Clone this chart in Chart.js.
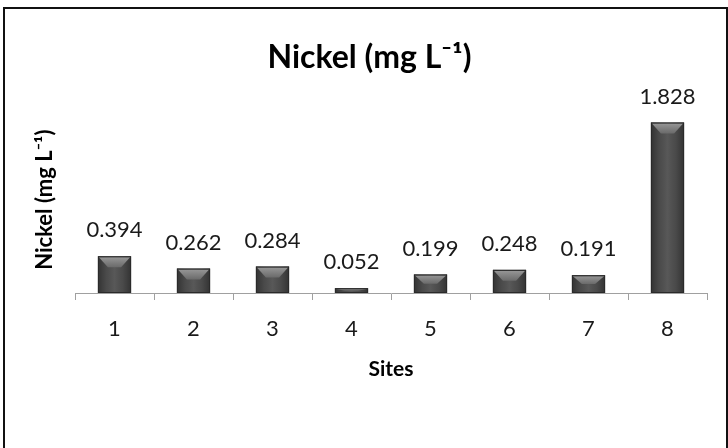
<!DOCTYPE html>
<html>
<head>
<meta charset="utf-8">
<script src="https://cdn.jsdelivr.net/npm/chart.js@4"></script>
<style>
  html, body { margin: 0; padding: 0; background: #fff; }
  #wrap { position: relative; width: 728px; height: 448px; overflow: hidden; }
  #frame { position: absolute; left: 3px; top: 7px; width: 721px; height: 470px; border: 2px solid #111; }
  #myBar { position: absolute; left: 0; top: 0; }
</style>
</head>
<body>
<div id="wrap">
  <div id="frame"></div>
  <canvas id="myBar" width="728" height="448"></canvas>
</div>
<script>
var sites = ['1', '2', '3', '4', '5', '6', '7', '8'];
var nickel = [0.394, 0.262, 0.284, 0.052, 0.199, 0.248, 0.191, 1.828];
var yMax = 2;

var fontName = 'Lato, "Open Sans", sans-serif';

// beveled look like the excel bars
var bevelBars = {
    id: 'bevelBars',
    afterDatasetsDraw: function(chart) {
        var c = chart.ctx;
        chart.getDatasetMeta(0).data.forEach(function(bar) {
            var p = bar.getProps(['x', 'y', 'base', 'width'], true);
            var l = p.x - p.width / 2, r = p.x + p.width / 2;
            var t = p.y, b = p.base;
            var h = b - t;
            c.save();
            var g = c.createLinearGradient(l, 0, r, 0);
            g.addColorStop(0, 'rgba(0,0,0,0.35)');
            g.addColorStop(0.25, 'rgba(0,0,0,0.05)');
            g.addColorStop(0.5, 'rgba(255,255,255,0.06)');
            g.addColorStop(0.75, 'rgba(0,0,0,0.05)');
            g.addColorStop(1, 'rgba(0,0,0,0.35)');
            c.fillStyle = g;
            c.fillRect(l, t, p.width, h);

            var d = Math.min(11, h / 2);
            var inset = Math.min(10, p.width / 3);
            var g2 = c.createLinearGradient(0, t, 0, t + d);
            g2.addColorStop(0, '#9a9a9a');
            g2.addColorStop(1, '#6a6a6a');
            c.fillStyle = g2;
            c.beginPath();
            c.moveTo(l + 1, t + 1);
            c.lineTo(r - 1, t + 1);
            c.lineTo(r - inset, t + d);
            c.lineTo(l + inset, t + d);
            c.closePath();
            c.fill();

            c.strokeStyle = '#2a2a2a';
            c.lineWidth = 1;
            c.strokeRect(l + 0.5, t + 0.5, p.width - 1, h - 1);
            c.restore();
        });
    }
};

// value labels above the bars
var valueLabels = {
    id: 'valueLabels',
    afterDatasetsDraw: function(chart) {
        var c = chart.ctx;
        c.save();
        c.font = '22px ' + fontName;
        c.fillStyle = '#1a1a1a';
        c.textAlign = 'center';
        c.textBaseline = 'middle';
        chart.getDatasetMeta(0).data.forEach(function(bar, i) {
            c.fillText(nickel[i].toFixed(3), bar.x, bar.y - 26);
        });
        c.restore();
    }
};

var ctxbar = document.getElementById('myBar').getContext('2d');
var myBarChart = new Chart(ctxbar, {
    type: 'bar',
    data: {
        labels: sites,
        datasets: [{
            data: nickel,
            backgroundColor: '#4e4e4e',
            borderWidth: 0,
            categoryPercentage: 1,
            barPercentage: 0.42
        }]
    },
    options: {
        responsive: false,
        animation: false,
        layout: { padding: { left: 32, right: 21, top: 10, bottom: 62 } },
        plugins: {
            legend: { display: false },
            tooltip: { enabled: false },
            title: {
                display: true,
                text: 'Nickel (mg L\u207B\u00B9)',
                color: '#000',
                font: { family: fontName, size: 32, weight: 'bold' },
                padding: { top: 28, bottom: 30 }
            }
        },
        scales: {
            x: {
                grid: { drawOnChartArea: false, drawTicks: true, tickLength: 7, color: '#a0a0a0' },
                border: { display: true, color: '#a0a0a0', width: 1 },
                ticks: { color: '#1a1a1a', padding: 16, font: { family: fontName, size: 22 } },
                title: {
                    display: true,
                    text: 'Sites',
                    color: '#000',
                    font: { family: fontName, size: 21, weight: 'bold' },
                    padding: { top: 6, bottom: 4 }
                },
                afterFit: function(scale) { scale.height = 93; }
            },
            y: {
                min: 0,
                max: yMax,
                grid: { display: false },
                border: { display: false },
                ticks: { display: false },
                title: {
                    display: true,
                    text: 'Nickel (mg L\u207B\u00B9)',
                    color: '#000',
                    font: { family: fontName, size: 22, weight: 'bold' },
                    padding: 0
                },
                afterFit: function(scale) { scale.width = 43; }
            }
        }
    },
    plugins: [bevelBars, valueLabels]
});
</script>
</body>
</html>
